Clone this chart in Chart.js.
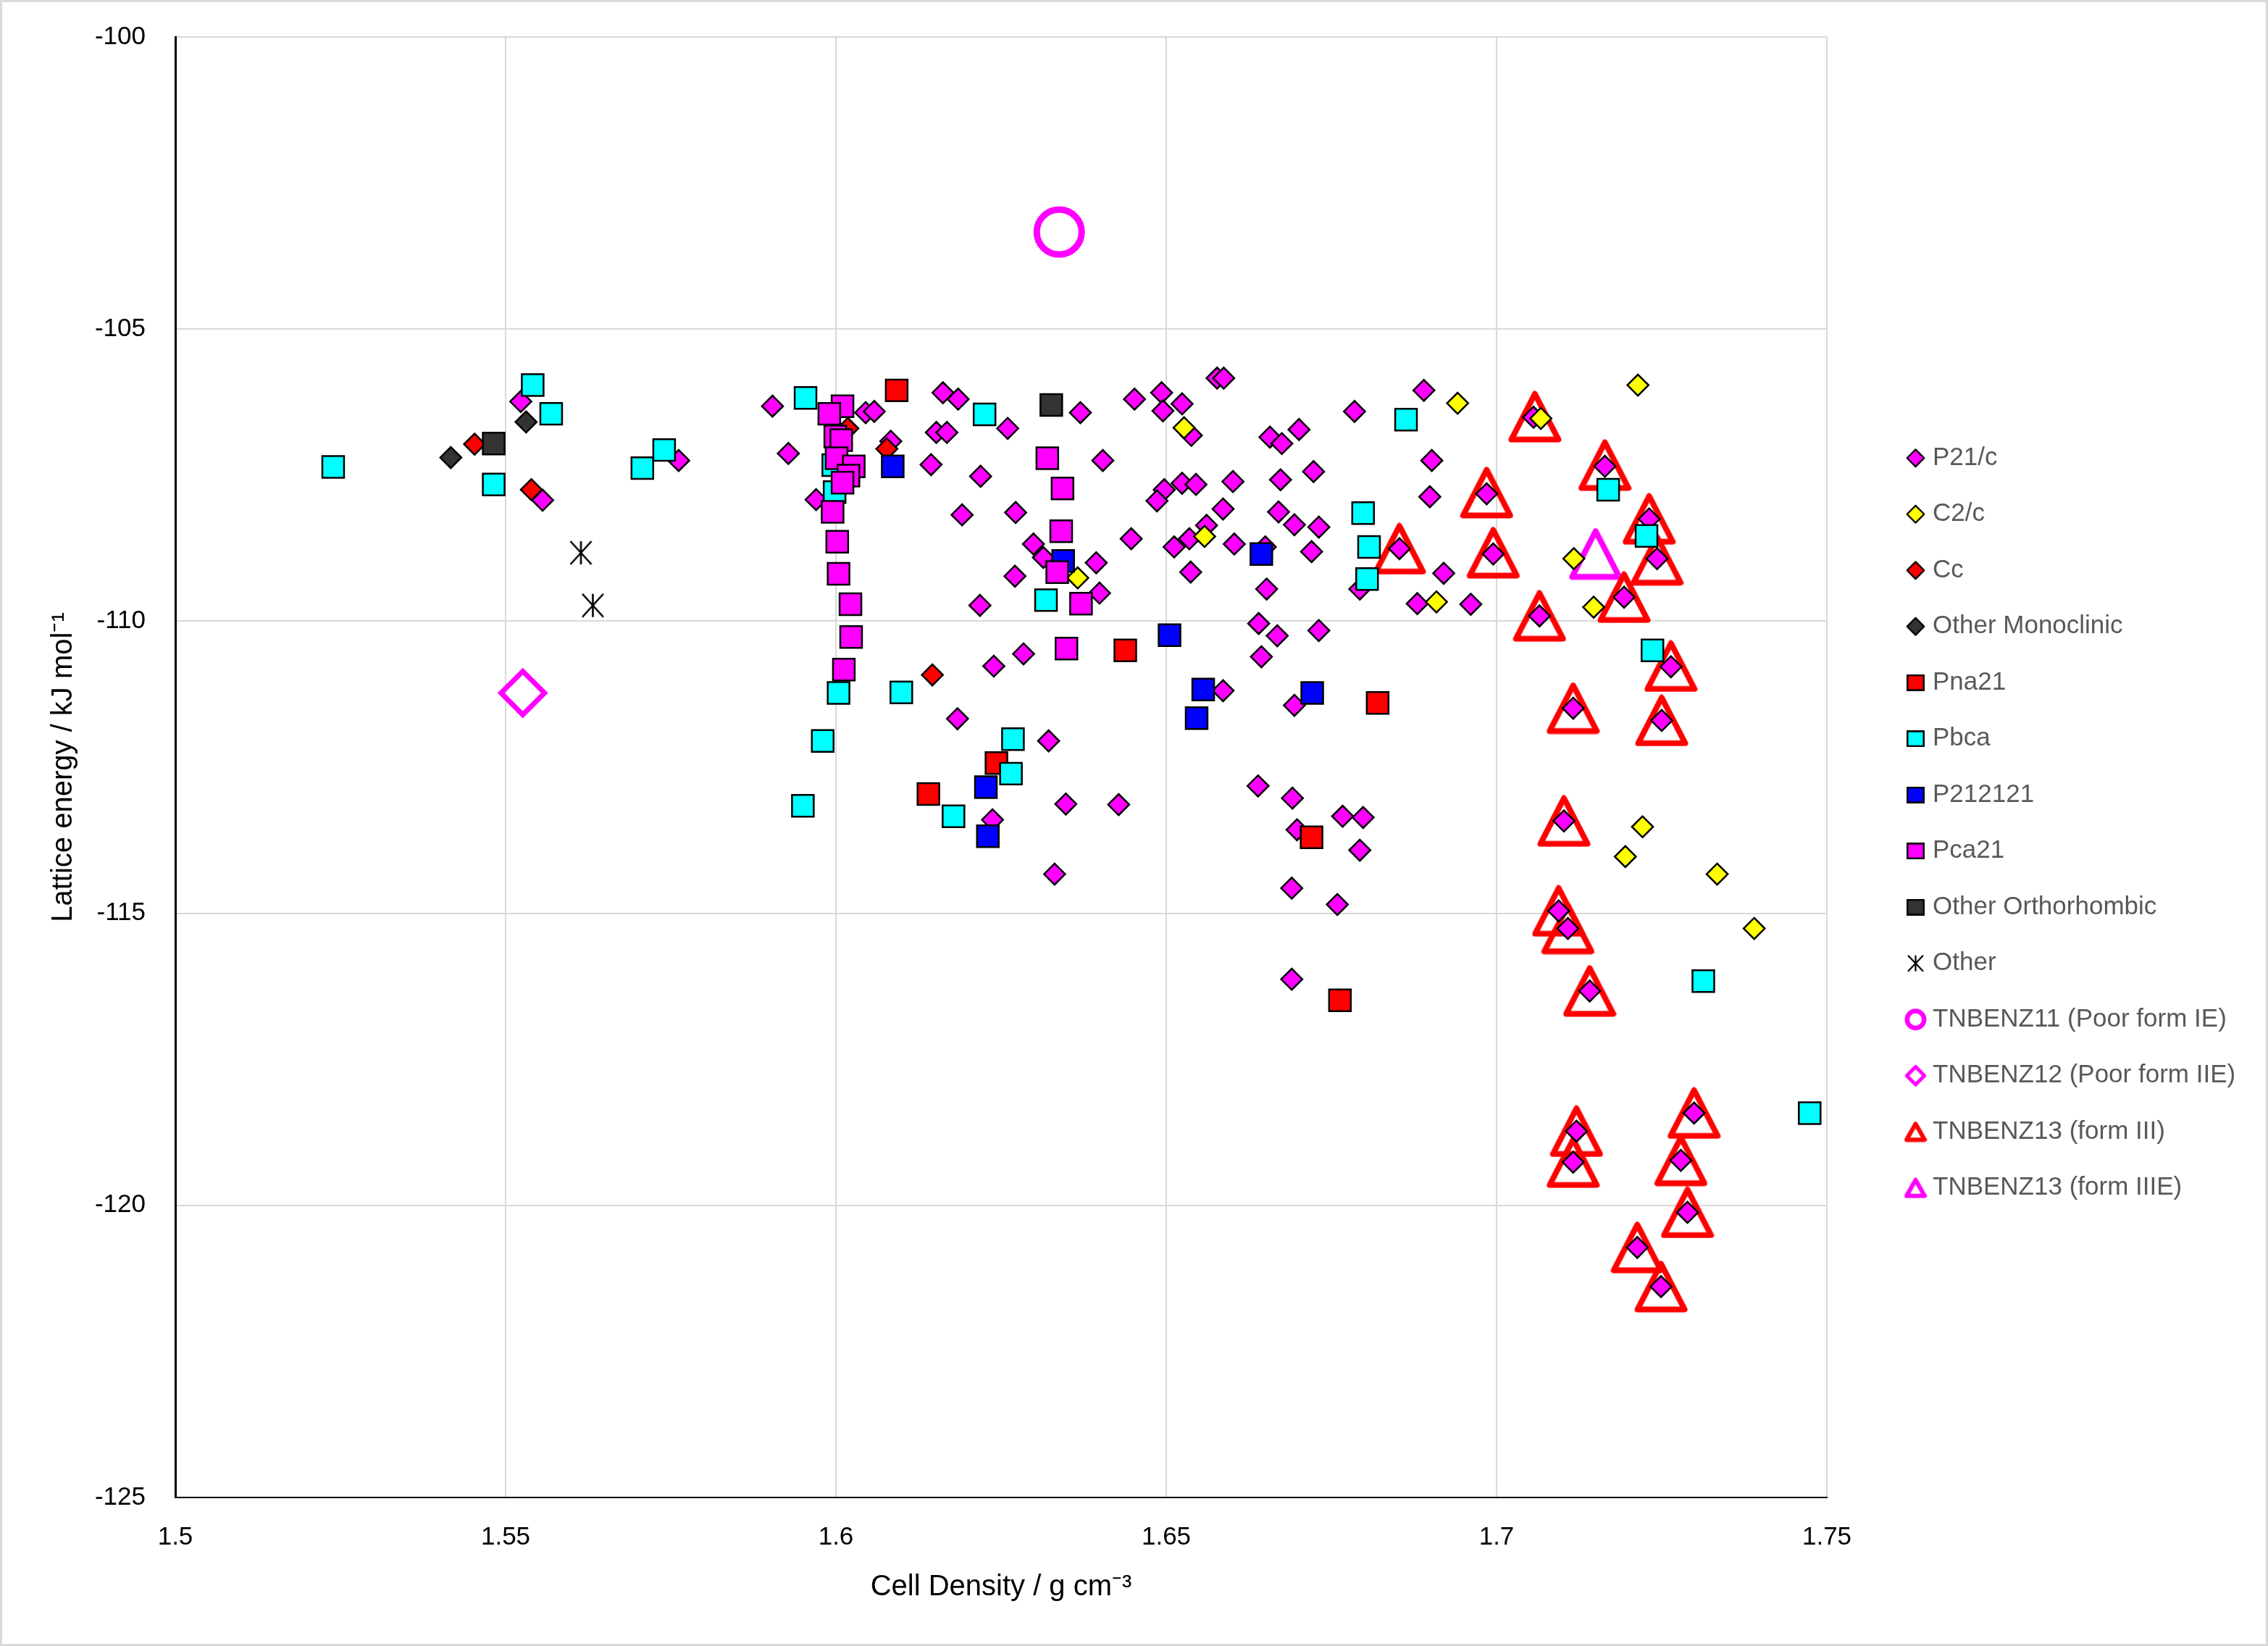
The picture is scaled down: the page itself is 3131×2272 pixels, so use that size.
<!DOCTYPE html>
<html>
<head>
<meta charset="utf-8">
<script src="https://cdn.jsdelivr.net/npm/chart.js@4.4.0/dist/chart.umd.min.js"></script>
<style>
html,body{margin:0;padding:0;background:#fff;}
canvas{display:block;}
</style>
</head>
<body>
<canvas id="c" width="3131" height="2272"></canvas>
<script>
// ---------------- DATA ----------------
const P21c = [
 [1.5523,-106.24],[1.5556,-107.93],[1.5762,-107.25],[1.5904,-106.32],[1.5928,-107.13],
 [1.5970,-107.92],[1.6045,-106.43],[1.6058,-106.41],[1.6083,-106.92],[1.6162,-106.09],
 [1.6185,-106.20],[1.6152,-106.77],[1.6168,-106.77],[1.6260,-106.70],[1.6370,-106.43],
 [1.6144,-107.32],[1.6219,-107.52],[1.6404,-107.25],[1.6191,-108.18],[1.6272,-108.14],
 [1.6299,-108.68],[1.6314,-108.91],[1.6394,-109.00],[1.6271,-109.23],[1.6399,-109.52],
 [1.6218,-109.73],[1.6239,-110.77],[1.6284,-110.56],[1.6184,-111.67],
 [1.6452,-106.20],[1.6493,-106.09],[1.6495,-106.40],[1.6524,-106.28],[1.6577,-105.84],[1.6587,-105.84],
 [1.6538,-106.82],[1.6657,-106.85],[1.6675,-106.96],[1.6701,-106.72],[1.6785,-106.41],[1.6890,-106.05],
 [1.6902,-107.25],[1.6899,-107.87],[1.6497,-107.75],[1.6486,-107.94],[1.6524,-107.64],[1.6545,-107.66],
 [1.6601,-107.61],[1.6673,-107.58],[1.6723,-107.44],[1.6586,-108.08],[1.6670,-108.13],[1.6694,-108.35],
 [1.6731,-108.39],[1.6447,-108.59],[1.6561,-108.36],[1.6535,-108.59],[1.6512,-108.73],[1.6603,-108.68],
 [1.6650,-108.73],[1.6720,-108.81],[1.6537,-109.16],[1.6652,-109.45],[1.6793,-109.45],[1.6853,-108.76],
 [1.6920,-109.18],[1.6880,-109.70],[1.6640,-110.04],[1.6668,-110.25],[1.6731,-110.16],[1.6644,-110.61],
 [1.6586,-111.19],[1.6694,-111.44],
 [1.7056,-106.51],[1.7164,-107.35],[1.7231,-108.25],[1.6985,-107.82],[1.6995,-108.85],[1.7243,-108.93],
 [1.7193,-109.59],[1.7065,-109.91],[1.7264,-110.78],[1.6961,-109.71],
 [1.6322,-112.05],[1.6237,-113.40],[1.6348,-113.13],[1.6428,-113.14],[1.6331,-114.33],
 [1.6639,-112.82],[1.6691,-113.03],[1.6698,-113.57],[1.6767,-113.34],[1.6798,-113.36],[1.6793,-113.92],
 [1.6690,-114.57],[1.6759,-114.85],[1.6690,-116.13],
 [1.7116,-111.49],[1.7250,-111.70],[1.7102,-113.42],[1.7094,-114.96],[1.7108,-115.26],[1.7141,-116.33],
 [1.7121,-118.73],[1.7116,-119.26],[1.7299,-118.42],[1.7279,-119.23],[1.7289,-120.12],[1.7213,-120.72],[1.7249,-121.39]
];
const C2c = [
 [1.6527,-106.69],[1.6558,-108.55],[1.6366,-109.26],[1.6909,-109.67],[1.6941,-106.27],[1.7214,-105.96],
 [1.7067,-106.53],[1.7117,-108.93],[1.7147,-109.76],[1.7221,-113.52],[1.7195,-114.03],[1.7334,-114.33],[1.7390,-115.26]
];
const Cc = [
 [1.5453,-106.97],[1.5539,-107.75],[1.6018,-106.70],[1.6077,-107.05],[1.6146,-110.92]
];
const otherMono = [
 [1.5417,-107.20],[1.5531,-106.59]
];
const Pna21 = [
 [1.6092,-106.05],[1.6438,-110.50],[1.6820,-111.40],[1.6243,-112.43],[1.6140,-112.96],[1.6720,-113.70],[1.6763,-116.49]
];
const Pbca = [
 [1.5239,-107.36],[1.5482,-107.66],[1.5541,-105.96],[1.5569,-106.45],[1.5707,-107.38],[1.5740,-107.07],
 [1.5954,-106.18],[1.6225,-106.46],[1.5996,-107.33],[1.5998,-107.79],[1.6004,-111.23],[1.6099,-111.22],
 [1.6318,-109.64],[1.5980,-112.05],[1.5950,-113.16],[1.6268,-112.02],[1.6265,-112.61],[1.6178,-113.34],
 [1.6863,-106.55],[1.6798,-108.15],[1.6807,-108.73],[1.6804,-109.28],[1.7169,-107.75],[1.7227,-108.54],
 [1.7236,-110.50],[1.7313,-116.16],[1.7474,-118.42]
];
const P212121 = [
 [1.6086,-107.35],[1.6344,-108.97],[1.6644,-108.85],[1.6505,-110.24],[1.6556,-111.17],[1.6721,-111.23],
 [1.6546,-111.66],[1.6227,-112.84],[1.6230,-113.68]
];
const Pca21 = [
 [1.6010,-106.32],[1.5990,-106.45],[1.5999,-106.84],[1.6008,-106.90],[1.6001,-107.21],[1.6027,-107.35],
 [1.6019,-107.51],[1.6010,-107.63],[1.5995,-108.13],[1.6002,-108.64],[1.6004,-109.19],[1.6022,-109.71],
 [1.6023,-110.27],[1.6012,-110.83],
 [1.6320,-107.21],[1.6343,-107.73],[1.6341,-108.46],[1.6335,-109.16],[1.6371,-109.70],[1.6349,-110.47]
];
const otherOrtho = [
 [1.5482,-106.96],[1.6326,-106.30]
];
const other = [
 [1.5614,-108.83],[1.5632,-109.73]
];
const tnbenz11 = [[1.6338,-103.34]];
const tnbenz12 = [[1.5526,-111.23]];
const tnbenz13III = [
 [1.7058,-106.50],[1.7164,-107.33],[1.7231,-108.25],[1.6985,-107.80],[1.6995,-108.83],[1.7243,-108.95],
 [1.7193,-109.59],[1.7065,-109.91],[1.7264,-110.77],[1.6853,-108.76],[1.7116,-111.49],[1.7250,-111.70],
 [1.7102,-113.42],[1.7094,-114.96],[1.7108,-115.26],[1.7141,-116.33],[1.7121,-118.73],[1.7116,-119.26],
 [1.7299,-118.42],[1.7279,-119.23],[1.7289,-120.12],[1.7213,-120.72],[1.7249,-121.39]
];
const tnbenz13IIIE = [[1.7150,-108.85]];

const seriesNames = ['P21/c','C2/c','Cc','Other Monoclinic','Pna21','Pbca','P212121','Pca21',
  'Other Orthorhombic','Other','TNBENZ11 (Poor form IE)','TNBENZ12 (Poor form IIE)',
  'TNBENZ13 (form III)','TNBENZ13 (form IIIE)'];
const xTicks = [1.5, 1.55, 1.6, 1.65, 1.7, 1.75];
const xTickLabels = ['1.5','1.55','1.6','1.65','1.7','1.75'];
const yTicks = [-125, -120, -115, -110, -105, -100];
const yTickLabels = ['-125','-120','-115','-110','-105','-100'];
const xTitle = 'Cell Density / g cm\u207B\u00B3';
const yTitle = 'Lattice energy / kJ mol\u207B\u00B9';

// ---------------- STYLE HELPERS ----------------
const FONT = "'Liberation Sans', Arial, sans-serif";
const W = 3131, H = 2272;

function mk(w, h, draw) {
  const c = document.createElement('canvas');
  c.width = w; c.height = h;
  draw(c.getContext('2d'), w, h);
  return c;
}
function diamondC(size, fill, stroke, lw) {
  return mk(size, size, (g, w, h) => {
    const i = lw * 0.75;
    g.beginPath();
    g.moveTo(w/2, i); g.lineTo(w - i, h/2); g.lineTo(w/2, h - i); g.lineTo(i, h/2); g.closePath();
    if (fill) { g.fillStyle = fill; g.fill(); }
    g.lineWidth = lw; g.strokeStyle = stroke; g.lineJoin = 'round'; g.stroke();
  });
}
function squareC(w0, h0, fill, stroke, lw) {
  return mk(w0, h0, (g, w, h) => {
    const i = lw / 2;
    g.fillStyle = fill; g.fillRect(i, i, w - lw, h - lw);
    g.lineWidth = lw; g.strokeStyle = stroke; g.strokeRect(i, i, w - lw, h - lw);
  });
}
function triC(w0, h0, stroke, lw) {
  return mk(w0, h0, (g, w, h) => {
    const i = lw / 2 + 0.5;
    g.beginPath();
    g.moveTo(w/2, i); g.lineTo(w - i, h - i); g.lineTo(i, h - i); g.closePath();
    g.lineWidth = lw; g.strokeStyle = stroke; g.lineJoin = 'round'; g.stroke();
  });
}
function ringC(d, stroke, lw) {
  return mk(d, d, (g, w, h) => {
    g.beginPath(); g.arc(w/2, h/2, w/2 - lw/2 - 0.5, 0, Math.PI * 2);
    g.lineWidth = lw; g.strokeStyle = stroke; g.stroke();
  });
}
function starC(w0, h0, stroke, lw) {
  return mk(w0, h0, (g, w, h) => {
    const i = 1;
    g.lineWidth = lw; g.strokeStyle = stroke; g.lineCap = 'butt';
    g.beginPath();
    g.moveTo(w/2, i); g.lineTo(w/2, h - i);
    g.moveTo(i + 1, i); g.lineTo(w - i - 1, h - i);
    g.moveTo(w - i - 1, i); g.lineTo(i + 1, h - i);
    g.stroke();
  });
}

const dataStars = starC(33, 34, '#000000', 2.6);
const triIII = triC(74, 72, '#FF0000', 8);
const triIIIE = triC(74, 72, '#FF00FF', 8);

const legendMarks = [
  diamondC(27, '#FF00FF', '#000', 2.2),
  diamondC(27, '#FFFF00', '#000', 2.2),
  diamondC(27, '#FF0000', '#000', 2.2),
  diamondC(27, '#333333', '#000', 2.2),
  squareC(25, 23, '#FF0000', '#000', 2.5),
  squareC(25, 23, '#00FFFF', '#000', 2.5),
  squareC(25, 23, '#0000FF', '#000', 2.5),
  squareC(25, 23, '#FF00FF', '#000', 2.5),
  squareC(25, 23, '#333333', '#000', 2.5),
  starC(25, 24, '#000', 2.2),
  ringC(31, '#FF00FF', 6.5),
  diamondC(32, null, '#FF00FF', 5),
  triC(32, 29, '#FF0000', 6),
  triC(32, 29, '#FF00FF', 6)
];

const toXY = arr => arr.map(p => ({x: p[0], y: p[1]}));
function ds(i, data, style, order) {
  return Object.assign({
    label: seriesNames[i], data: toXY(data), showLine: false, order: order
  }, style);
}
const diamondStyle = c => ({pointStyle: 'rectRot', pointRadius: 14.6, pointHoverRadius: 14.6,
  backgroundColor: c, borderColor: '#000', borderWidth: 2.5});
const squareStyle = c => ({pointStyle: 'rect', pointRadius: 21.2, pointHoverRadius: 21.2,
  backgroundColor: c, borderColor: '#000', borderWidth: 2.5});

const datasets = [
  ds(0, P21c, diamondStyle('#FF00FF'), 20),
  ds(1, C2c, diamondStyle('#FFFF00'), 19),
  ds(2, Cc, diamondStyle('#FF0000'), 18),
  ds(3, otherMono, diamondStyle('#333333'), 17),
  ds(4, Pna21, squareStyle('#FF0000'), 16),
  ds(5, Pbca, squareStyle('#00FFFF'), 15),
  ds(6, P212121, squareStyle('#0000FF'), 14),
  ds(7, Pca21, squareStyle('#FF00FF'), 13),
  ds(8, otherOrtho, squareStyle('#333333'), 12),
  ds(9, other, {pointStyle: dataStars, pointRadius: 17, backgroundColor: '#000', borderColor: '#000', borderWidth: 2.5}, 11),
  ds(10, tnbenz11, {pointStyle: 'circle', pointRadius: 31, pointHoverRadius: 31, backgroundColor: 'rgba(255,255,255,0)', borderColor: '#FF00FF', borderWidth: 9}, 10),
  ds(11, tnbenz12, {pointStyle: 'rectRot', pointRadius: 30, pointHoverRadius: 30, backgroundColor: 'rgba(255,255,255,0)', borderColor: '#FF00FF', borderWidth: 7}, 9),
  ds(12, tnbenz13III, {pointStyle: triIII, pointRadius: 36, backgroundColor: 'rgba(0,0,0,0)', borderColor: '#FF0000', borderWidth: 8}, 30),
  ds(13, tnbenz13IIIE, {pointStyle: triIIIE, pointRadius: 36, backgroundColor: 'rgba(0,0,0,0)', borderColor: '#FF00FF', borderWidth: 8}, 31)
];

// ---------------- LAYOUT ----------------
const PAD = {left: 64, top: 51, right: 0, bottom: 40};
const PLOT = {left: 242, right: 2522, top: 51, bottom: 2067};
const LEGEND_LEFT = 2596;

const frame = {
  id: 'frame',
  beforeDraw(chart) {
    const g = chart.ctx;
    g.save();
    g.fillStyle = '#fff'; g.fillRect(0, 0, W, H);
    g.strokeStyle = '#D9D9D9'; g.lineWidth = 3; g.strokeRect(1.5, 1.5, W - 3, H - 3);
    g.restore();
  }
};
const legendPlacer = {
  id: 'legendPlacer',
  beforeLayout(chart) {
    const lg = chart.legend;
    if (lg && !lg._fixedFit) {
      const orig = lg.fit.bind(lg);
      lg.fit = function() { orig(); this.width = W - PLOT.right - PAD.right; };
      lg._fixedFit = true;
    }
  },
  afterLayout(chart) {
    const lg = chart.legend;
    if (!lg) return;
    lg.left = LEGEND_LEFT; lg.right = W; lg.width = W - LEGEND_LEFT;
    lg.top = 0; lg.bottom = H; lg.height = H;
  }
};

Chart.defaults.font.family = FONT;

new Chart(document.getElementById('c'), {
  type: 'scatter',
  data: {datasets},
  options: {
    responsive: false,
    animation: false,
    devicePixelRatio: 1,
    layout: {padding: PAD},
    events: [],
    plugins: {
      tooltip: {enabled: false},
      legend: {
        position: 'right',
        align: 'center',
        labels: {
          usePointStyle: true,
          boxWidth: 12,
          padding: 42.5,
          color: '#595959',
          font: {size: 35, family: FONT},
          generateLabels: (chart) => seriesNames.map((name, i) => ({
            text: name, datasetIndex: i, hidden: false, pointStyle: legendMarks[i],
            fillStyle: '#fff', strokeStyle: '#000', lineWidth: 0, fontColor: '#595959'
          }))
        }
      }
    },
    scales: {
      x: {
        type: 'linear', position: 'bottom', min: 1.5, max: 1.75,
        afterBuildTicks: s => { s.ticks = xTicks.map(v => ({value: v})); },
        afterFit: s => { s.height = H - PAD.bottom - PLOT.bottom; },
        ticks: {
          callback: (v) => { const k = xTicks.findIndex(t => Math.abs(t - v) < 1e-9); return k >= 0 ? xTickLabels[k] : ''; },
          color: '#000000', font: {size: 35}, padding: 34, maxRotation: 0, autoSkip: false
        },
        grid: {color: '#D9D9D9', lineWidth: 2, drawTicks: false},
        border: {color: '#000000', width: 2},
        title: {display: true, text: xTitle, color: '#000000', font: {size: 40}, padding: {top: 0, bottom: 17}}
      },
      y: {
        type: 'linear', position: 'left', min: -125, max: -100,
        afterBuildTicks: s => { s.ticks = yTicks.map(v => ({value: v})); },
        afterFit: s => { s.width = PLOT.left - PAD.left; },
        ticks: {
          callback: (v) => { const k = yTicks.indexOf(v); return k >= 0 ? yTickLabels[k] : ''; },
          color: '#000000', font: {size: 35, lineHeight: 0.5}, padding: 41, autoSkip: false
        },
        grid: {color: '#D9D9D9', lineWidth: 2, drawTicks: false},
        border: {color: '#000000', width: 3},
        title: {display: true, text: yTitle, color: '#000000', font: {size: 40}, padding: {top: 0, bottom: 10}}
      }
    }
  },
  plugins: [frame, legendPlacer]
});
</script>
</body>
</html>
